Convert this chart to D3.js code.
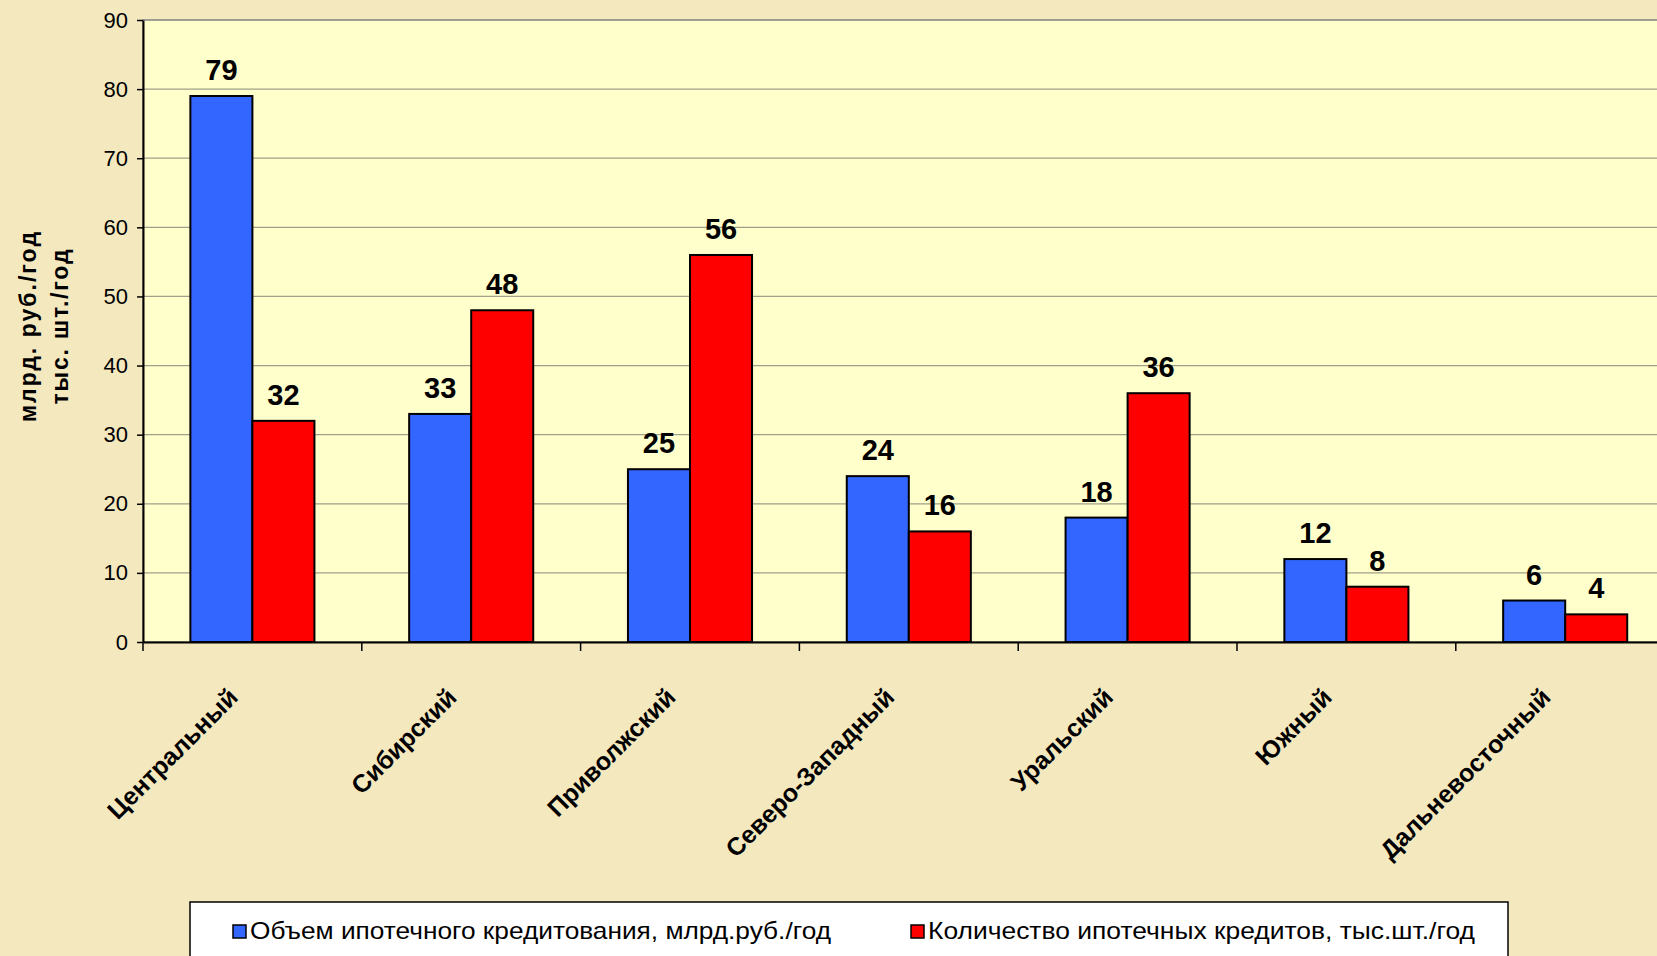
<!DOCTYPE html>
<html>
<head>
<meta charset="utf-8">
<script src="https://cdn.jsdelivr.net/npm/d3@7"></script>
<style>
  html, body { margin: 0; padding: 0; background: #F4E8BF; }
  svg { display: block; font-family: "Liberation Sans", Arial, sans-serif; }
</style>
</head>
<body>
<svg id="chart" width="1657" height="956"></svg>
<script>
// regions (federal districts)
const categories = ['Центральный', 'Сибирский', 'Приволжский', 'Северо-Западный', 'Уральский', 'Южный', 'Дальневосточный'];
// объем ипотечного кредитования, млрд.руб./год
const volume = [79, 33, 25, 24, 18, 12, 6];
// количество ипотечных кредитов, тыс.шт./год
const count = [32, 48, 56, 16, 36, 8, 4];
const seriesNames = ['Объем ипотечного кредитования,  млрд.руб./год', 'Количество ипотечных  кредитов,  тыс.шт./год'];
const seriesColors = ['#3366FF', '#FF0000'];
const yTicks = [0, 10, 20, 30, 40, 50, 60, 70, 80, 90];
const yTitle = ['млрд. руб./год', 'тыс. шт./год'];

const svg = d3.select('#chart');
const W = 1657, H = 956;

svg.append('rect').attr('width', W).attr('height', H).attr('fill', '#F4E8BF');

const plotLeft = 143, plotTop = 20, plotBottom = 642;
const bandW = 218.8;
const plotRight = plotLeft + bandW * categories.length; // runs past the window edge, like the original

const x = d3.scaleBand().domain(categories).range([plotLeft, plotRight]).padding(0);
const x1 = d3.scaleBand().domain([0, 1])
  .range([x.bandwidth() * 0.2165, x.bandwidth() * 0.7835]).padding(0);
const y = d3.scaleLinear().domain([0, 90]).range([plotBottom, plotTop]);

// plot area
svg.append('rect')
  .attr('x', plotLeft).attr('y', plotTop)
  .attr('width', plotRight - plotLeft).attr('height', plotBottom - plotTop)
  .attr('fill', '#FFFFCC')
  .attr('stroke', '#808080').attr('stroke-width', 1.5);

// gridlines
svg.append('g')
  .selectAll('line')
  .data(yTicks.filter(d => d > 0 && d < 90))
  .join('line')
  .attr('x1', plotLeft).attr('x2', plotRight)
  .attr('y1', d => y(d)).attr('y2', d => y(d))
  .attr('stroke', '#A09F8A').attr('stroke-width', 1.2);

// bars
const rows = categories.map((c, i) => ({ cat: c, vals: [volume[i], count[i]] }));

const groups = svg.append('g')
  .selectAll('g')
  .data(rows)
  .join('g')
  .attr('transform', d => `translate(${x(d.cat)},0)`);

groups.selectAll('rect')
  .data(d => d.vals.map((v, k) => ({ k, v })))
  .join('rect')
  .attr('x', d => x1(d.k))
  .attr('y', d => y(d.v))
  .attr('width', x1.bandwidth())
  .attr('height', d => y(0) - y(d.v))
  .attr('fill', d => seriesColors[d.k])
  .attr('stroke', '#000').attr('stroke-width', 2);

groups.selectAll('text')
  .data(d => d.vals.map((v, k) => ({ k, v })))
  .join('text')
  .attr('x', d => x1(d.k) + x1.bandwidth() / 2)
  .attr('y', d => y(d.v) - 16)
  .attr('text-anchor', 'middle')
  .attr('font-size', 29).attr('font-weight', 'bold')
  .attr('fill', '#000')
  .text(d => d.v);

// y axis
const yAxis = svg.append('g')
  .attr('transform', `translate(${plotLeft},0)`)
  .call(d3.axisLeft(y).tickValues(yTicks).tickSize(6).tickSizeOuter(0).tickPadding(9));
yAxis.select('.domain').attr('stroke', '#000').attr('stroke-width', 2);
yAxis.selectAll('.tick line').attr('stroke', '#000').attr('stroke-width', 1.5);
yAxis.selectAll('.tick text')
  .attr('font-size', 22).attr('fill', '#000')
  .attr('font-family', '"Liberation Sans", Arial, sans-serif');

// x axis
const xAxis = svg.append('g')
  .attr('transform', `translate(0,${plotBottom})`)
  .call(d3.axisBottom(x).tickSize(0).tickFormat(''));
xAxis.select('.domain').attr('stroke', '#000').attr('stroke-width', 2);

svg.append('g')
  .selectAll('line')
  .data(d3.range(categories.length + 1))
  .join('line')
  .attr('x1', i => plotLeft + i * x.step()).attr('x2', i => plotLeft + i * x.step())
  .attr('y1', plotBottom).attr('y2', plotBottom + 9)
  .attr('stroke', '#000').attr('stroke-width', 1.5);

svg.append('g')
  .selectAll('text')
  .data(categories)
  .join('text')
  .attr('transform', d => `translate(${x(d) + x.bandwidth() / 2 - 13},${plotBottom + 57}) rotate(-45)`)
  .attr('text-anchor', 'end')
  .attr('font-size', 25).attr('font-weight', 'bold')
  .attr('fill', '#000')
  .text(d => d);

// y title
const yTitleLen = [190, 155];
const yt = svg.append('g').attr('transform', 'translate(0,327) rotate(-90)');
yt.selectAll('text')
  .data(yTitle)
  .join('text')
  .attr('x', (d, i) => -yTitleLen[i] / 2)
  .attr('y', (d, i) => 36 + i * 32)
  .attr('font-size', 23).attr('font-weight', 'bold')
  .attr('fill', '#000')
  .attr('textLength', (d, i) => yTitleLen[i])
  .attr('lengthAdjust', 'spacing')
  .text(d => d);

// legend
const lg = svg.append('g');
lg.append('rect')
  .attr('x', 190).attr('y', 902)
  .attr('width', 1318).attr('height', 80)
  .attr('fill', '#FFFFFF')
  .attr('stroke', '#000').attr('stroke-width', 1.5);

const legX = [233, 911];
const legW = [581, 547];
const items = lg.selectAll('g.item')
  .data(seriesNames)
  .join('g')
  .attr('class', 'item')
  .attr('transform', (d, i) => `translate(${legX[i]},0)`);
items.append('rect')
  .attr('x', 0).attr('y', 925)
  .attr('width', 13).attr('height', 13)
  .attr('fill', (d, i) => seriesColors[i])
  .attr('stroke', '#000').attr('stroke-width', 1.5);
items.append('text')
  .attr('x', 17).attr('y', 939)
  .attr('font-size', 24).attr('fill', '#000')
  .attr('textLength', (d, i) => legW[i])
  .attr('lengthAdjust', 'spacingAndGlyphs')
  .text(d => d);
</script>
</body>
</html>
